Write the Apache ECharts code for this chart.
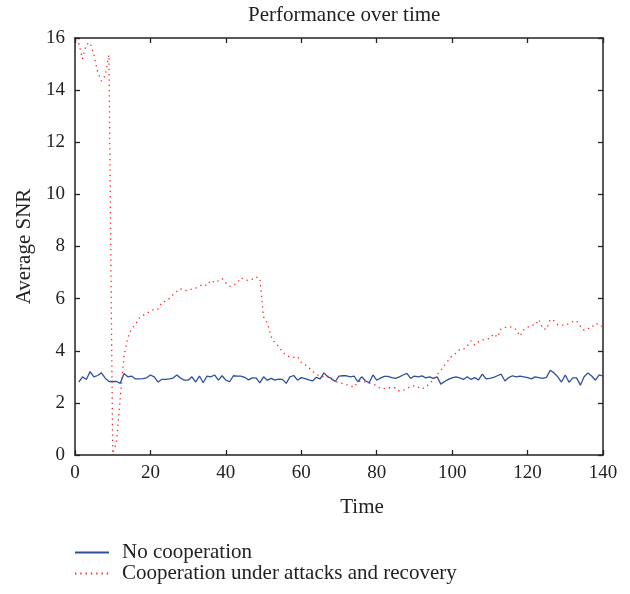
<!DOCTYPE html>
<html>
<head>
<meta charset="utf-8">
<script src="https://cdn.jsdelivr.net/npm/echarts@6/dist/echarts.min.js"></script>
<style>html,body{margin:0;padding:0;background:#fff;}#c{width:630px;height:594px;}</style>
</head>
<body>
<div id="c"></div>
<script>
const titleText = 'Performance over time';
const xName = 'Time';
const yName = 'Average SNR';
const seriesNames = ['No cooperation', 'Cooperation under attacks and recovery'];
const timeSteps = [];
for (let i = 1; i <= 140; i++) timeSteps.push(i);

const noCooperation = [
  2.8, 3.0, 2.9, 3.2, 3.0, 3.05, 3.15, 2.95, 2.82, 2.82,
  2.82, 2.75, 3.13, 3.0, 3.03, 2.92, 2.92, 2.93, 2.96, 3.07,
  3.0, 2.8, 2.9, 2.9, 2.92, 2.95, 3.07, 2.95, 2.87, 2.87,
  3.0, 2.8, 3.03, 2.77, 3.03, 3.0, 3.07, 2.87, 3.04, 2.87,
  2.81, 3.04, 3.03, 3.03, 2.98, 2.88, 2.96, 2.96, 2.77, 3.0,
  2.87, 2.94, 2.87, 2.91, 2.9, 2.75, 3.0, 3.05, 2.87, 2.97,
  2.93, 2.88, 2.84, 2.98, 2.92, 3.15, 3.0, 2.94, 2.82, 3.03,
  3.04, 3.04, 3.0, 3.03, 2.81, 3.0, 2.85, 2.77, 3.07, 2.87,
  2.95, 3.02, 3.02, 2.97, 2.94, 3.0, 3.07, 3.13, 2.94, 3.03,
  3.0, 3.04, 2.96, 3.0, 2.94, 3.0, 2.72, 2.82, 2.9, 2.96,
  3.0, 2.96, 2.9, 3.0, 2.9, 2.97, 2.88, 3.1, 2.92, 2.94,
  2.98, 3.04, 3.1, 2.84, 2.97, 3.04, 3.0, 3.03, 3.0, 2.97,
  2.92, 3.0, 2.97, 2.94, 2.98, 3.25, 3.15, 3.0, 2.8, 3.07,
  2.79, 2.96, 2.96, 2.68, 3.0, 3.15, 3.03, 2.87, 3.07, 3.03
];

const cooperationAttacks = [
  15.8, 15.2, 15.75, 15.82, 15.35, 14.7, 14.35, 14.55, 15.35, 0.05,
  0.5, 2.2, 3.8, 4.5, 4.85, 5.0, 5.25, 5.35, 5.45, 5.5,
  5.6, 5.6, 5.85, 5.9, 6.0, 6.15, 6.28, 6.38, 6.3, 6.32,
  6.37, 6.4, 6.48, 6.55, 6.5, 6.7, 6.62, 6.68, 6.77, 6.6,
  6.47, 6.52, 6.6, 6.8, 6.72, 6.7, 6.75, 6.83, 6.78, 5.3,
  5.05, 4.55, 4.3, 4.18, 3.95, 3.83, 3.76, 3.75, 3.78, 3.55,
  3.47, 3.35, 3.2, 3.1, 3.02, 3.0, 3.03, 2.9, 2.83, 2.78,
  2.75, 2.7, 2.65, 2.6, 2.8, 2.85, 2.79, 2.76, 2.73, 2.66,
  2.55, 2.55, 2.58, 2.58, 2.58, 2.45, 2.48, 2.55, 2.62, 2.66,
  2.6, 2.53, 2.63, 2.72, 2.9, 3.08, 3.25, 3.45, 3.63, 3.82,
  3.9, 4.05, 4.05, 4.18, 4.38, 4.22, 4.35, 4.42, 4.44, 4.47,
  4.65, 4.52, 4.85, 4.9, 4.9, 4.92, 4.8, 4.56, 4.8, 4.9,
  4.98, 4.98, 5.2, 4.85, 4.82, 5.2, 5.15, 5.0, 4.98, 4.98,
  5.05, 5.12, 5.15, 4.94, 4.78, 4.85, 4.9, 5.05, 5.0, 4.92
];

const font = 'Liberation Serif';
const axisColor = '#222';
const textColor = '#222';

function pairs(ys) { return timeSteps.map((x, i) => [x, ys[i]]); }

const chart = echarts.init(document.getElementById('c'), null, {renderer: 'canvas'});
const baseAxisLine = {show: true, onZero: false, lineStyle: {color: axisColor, width: 1.5}};
const baseTick = {show: true, inside: true, length: 5, lineStyle: {color: axisColor, width: 1.3}};
chart.setOption({
  animation: false,
  backgroundColor: '#fff',
  title: {
    text: titleText, left: 243, top: 0,
    textStyle: {fontFamily: font, fontSize: 21, fontWeight: 'normal', color: textColor}
  },
  grid: {left: 75, right: 27, top: 38, bottom: 139, containLabel: false},
  legend: {
    orient: 'vertical', left: 74, top: 542, height: 52, padding: 0,
    itemWidth: 34, itemHeight: 12, itemGap: 0,
    itemStyle: {opacity: 0},
    textStyle: {fontFamily: font, fontSize: 21, color: textColor, padding: [0, 0, 0, 8]},
    data: seriesNames
  },
  xAxis: [{
    type: 'value', min: 0, max: 140, interval: 20, position: 'bottom',
    axisLine: baseAxisLine, axisTick: baseTick, splitLine: {show: false},
    axisLabel: {fontFamily: font, fontSize: 19, color: textColor, margin: 9},
    name: xName, nameLocation: 'middle', nameGap: 42,
    nameTextStyle: {fontFamily: font, fontSize: 21, color: textColor, padding: [0, 0, 0, 46]}
  }, {
    type: 'value', min: 0, max: 140, interval: 20, position: 'top',
    axisLine: baseAxisLine, axisTick: baseTick, splitLine: {show: false},
    axisLabel: {show: false}
  }],
  yAxis: [{
    type: 'value', min: 0, max: 16, interval: 2, position: 'left',
    axisLine: baseAxisLine, axisTick: baseTick, splitLine: {show: false},
    axisLabel: {fontFamily: font, fontSize: 19, color: textColor, margin: 10},
    name: yName, nameLocation: 'middle', nameGap: 40, nameRotate: 90,
    nameTextStyle: {fontFamily: font, fontSize: 21, color: textColor}
  }, {
    type: 'value', min: 0, max: 16, interval: 2, position: 'right',
    axisLine: baseAxisLine, axisTick: baseTick, splitLine: {show: false},
    axisLabel: {show: false}
  }],
  series: [{
    name: seriesNames[0], type: 'line', data: pairs(noCooperation),
    showSymbol: false, symbol: 'none',
    lineStyle: {color: '#2f4f9f', width: 1.3}, itemStyle: {color: '#2f4f9f'}
  }, {
    name: seriesNames[1], type: 'line', data: pairs(cooperationAttacks),
    showSymbol: false, symbol: 'none',
    lineStyle: {color: '#ff2020', width: 1.3, type: [1.3, 4]}, itemStyle: {color: '#ff2020'}
  }]
});
</script>
</body>
</html>
